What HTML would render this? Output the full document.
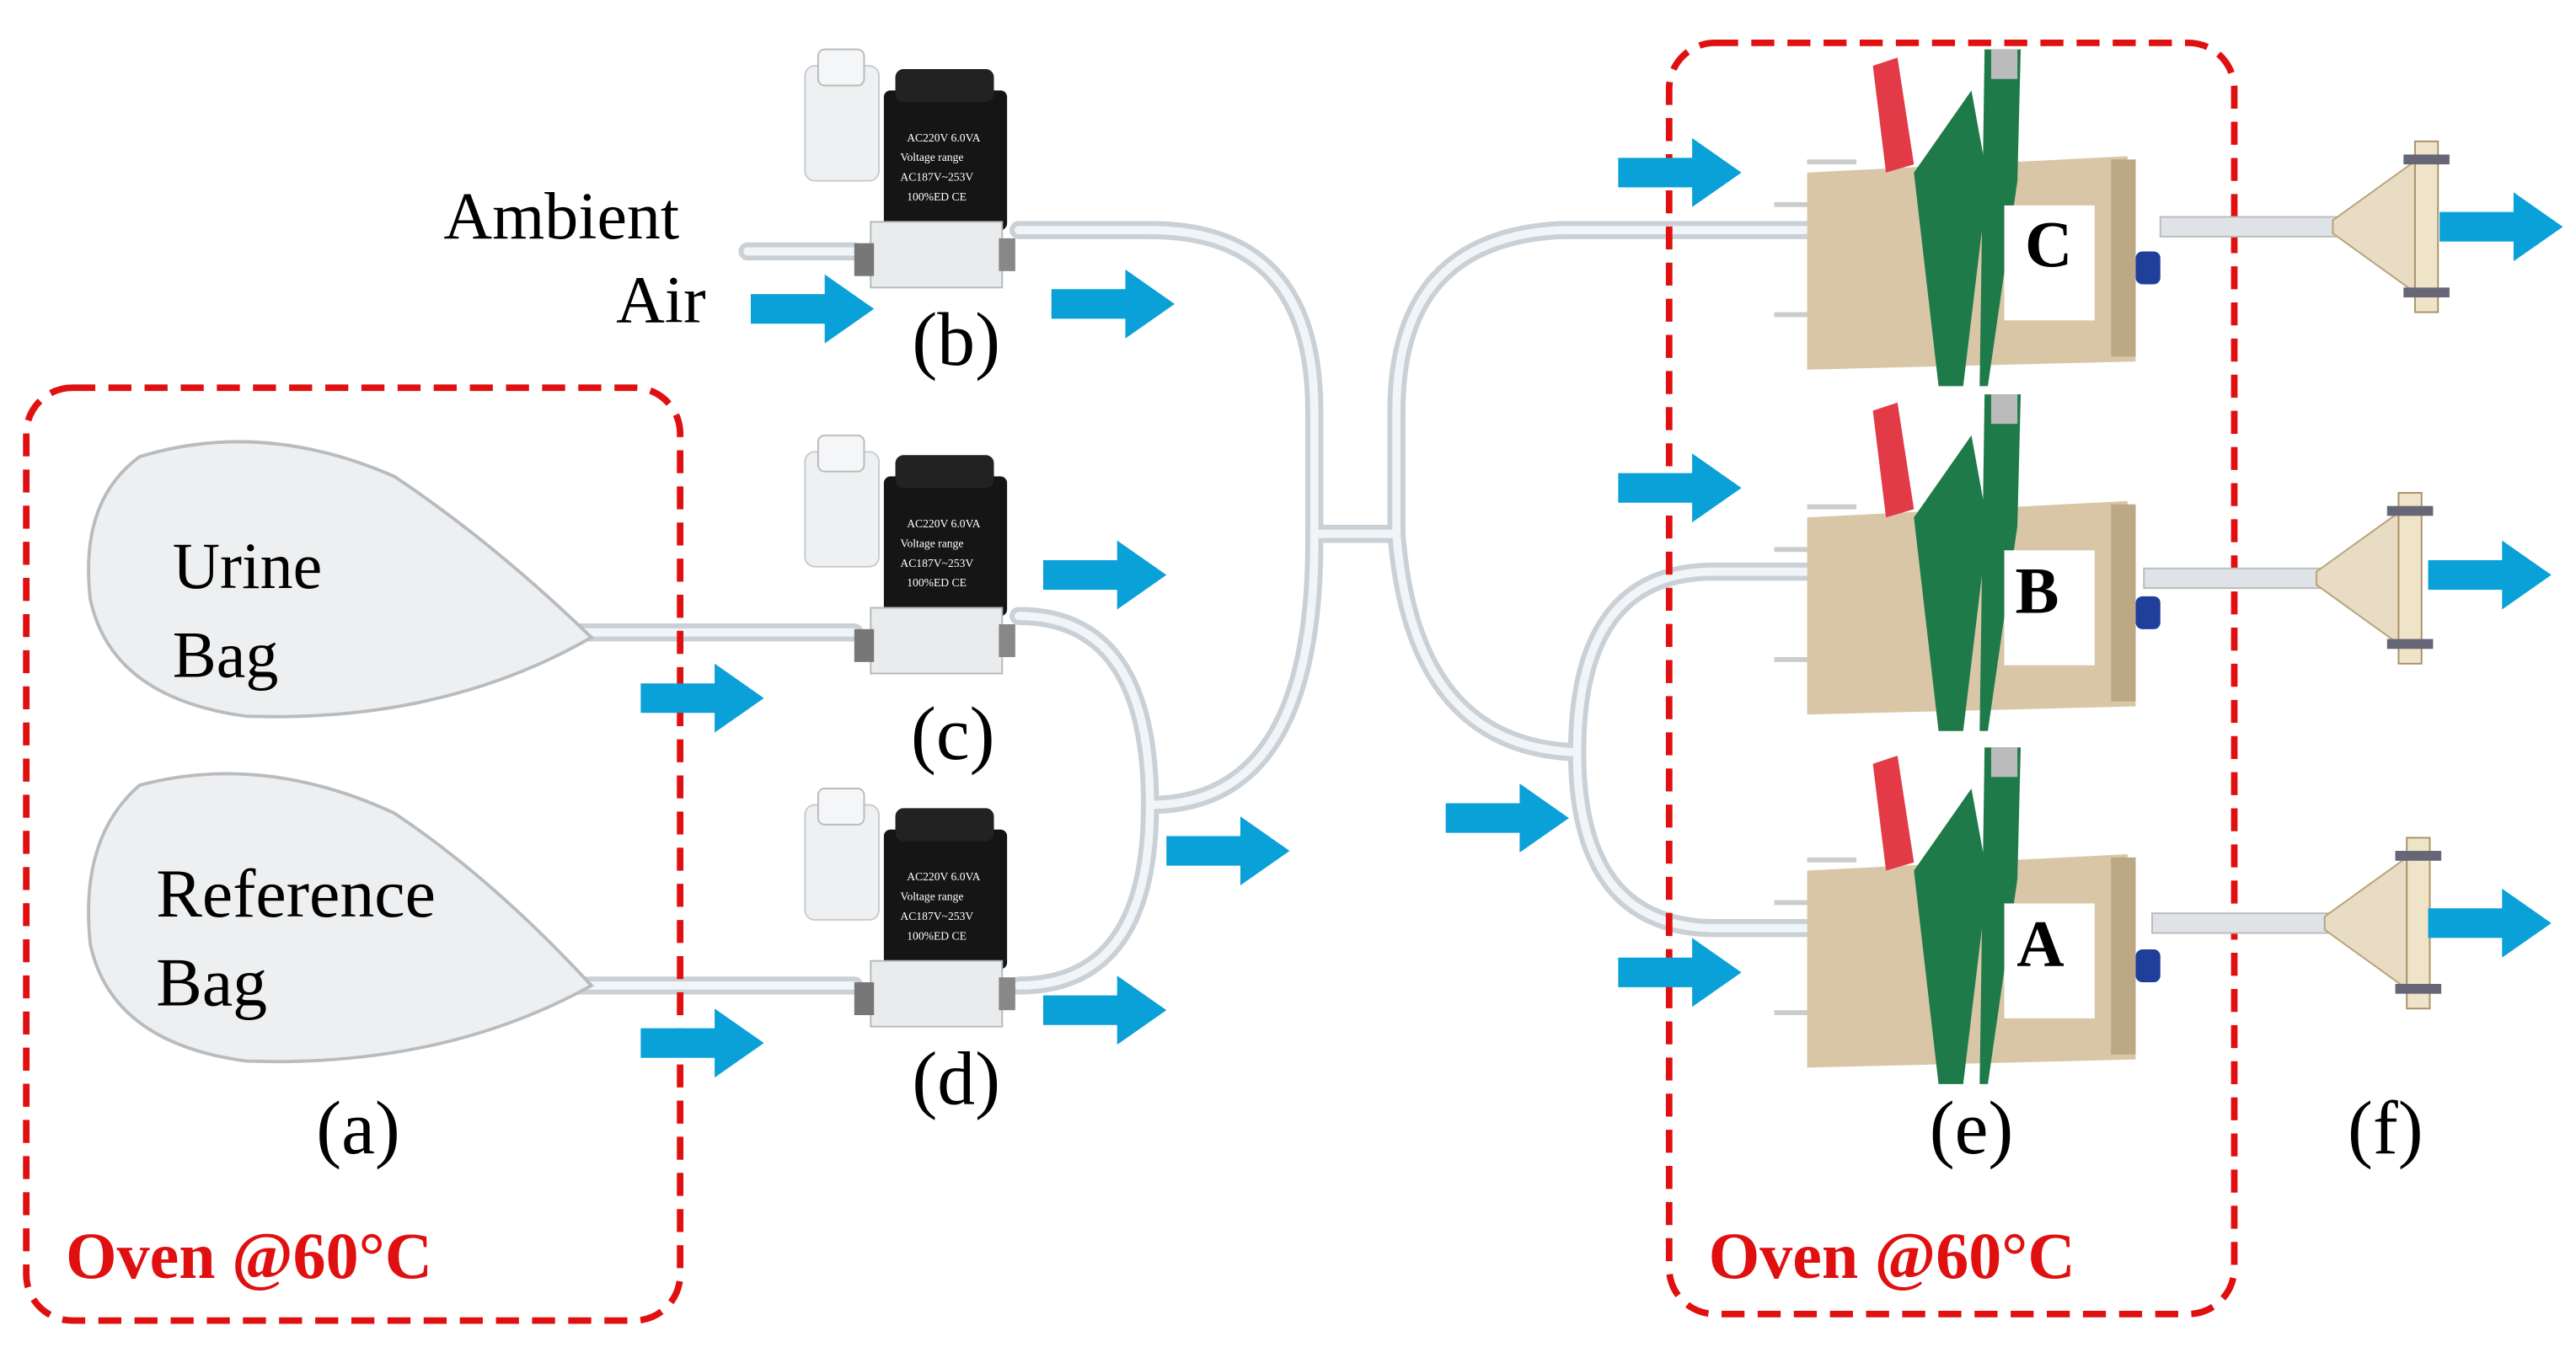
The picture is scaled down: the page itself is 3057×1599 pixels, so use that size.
<!DOCTYPE html>
<html><head><meta charset="utf-8"><style>
html,body{margin:0;padding:0;background:#fff;}
svg{display:block;}
text{font-family:"Liberation Serif",serif;}
</style></head><body>
<svg width="3057" height="1599" viewBox="0 0 1568 820" xmlns="http://www.w3.org/2000/svg">
<defs>
<g id="arrow"><polygon points="0,-9 45,-9 45,-21 75,0 45,21 45,9 0,9" fill="#0aa0d8"/></g>
<g id="valve">
  <rect x="0" y="10" width="45" height="70" rx="6" fill="#eef0f2" stroke="#c8ccd0"/>
  <rect x="8" y="0" width="28" height="22" rx="4" fill="#f4f6f7" stroke="#bbb"/>
  <rect x="48" y="25" width="75" height="85" rx="4" fill="#151515"/>
  <rect x="55" y="12" width="60" height="20" rx="5" fill="#222"/>
  <text x="62" y="56" font-size="7" fill="#fff" font-family="Liberation Sans,sans-serif">AC220V 6.0VA</text>
  <text x="58" y="68" font-size="7" fill="#fff" font-family="Liberation Sans,sans-serif">Voltage range</text>
  <text x="58" y="80" font-size="7" fill="#fff" font-family="Liberation Sans,sans-serif">AC187V~253V</text>
  <text x="62" y="92" font-size="7" fill="#fff" font-family="Liberation Sans,sans-serif">100%ED  CE</text>
  <rect x="40" y="105" width="80" height="40" fill="#e9ebed" stroke="#b5b9bd"/>
  <rect x="30" y="118" width="12" height="20" fill="#777"/>
  <rect x="118" y="115" width="10" height="20" fill="#888"/>
</g>
<g id="sensor">
  <rect x="0" y="12" width="30" height="3" fill="#ccc"/>
  <rect x="-20" y="38" width="22" height="3" fill="#ccc"/>
  <rect x="-20" y="105" width="22" height="3" fill="#ccc"/>
  <rect x="0" y="85" width="22" height="3" fill="#ccc"/>
  <polygon points="0,20 195,10 200,135 0,140" fill="#d9c6a6"/>
  <rect x="185" y="12" width="15" height="120" fill="#bda886"/>
  <polygon points="40,-45 55,-50 65,15 48,20" fill="#e33a48"/>
  <polygon points="65,20 100,-30 110,25 95,150 80,150" fill="#1f7a4a"/>
  <polygon points="108,-55 130,-55 128,25 110,150 105,150" fill="#1f7a4a"/>
  <rect x="112" y="-55" width="16" height="18" fill="#bbb"/>
  <rect x="120" y="40" width="55" height="70" fill="#fff"/>
  <rect x="200" y="68" width="15" height="20" rx="4" fill="#1f3f9a"/>
</g>
<g id="funnel">
  <rect x="0" y="-6" width="110" height="12" fill="#dfe3e7" stroke="#bbb"/>
  <polygon points="105,-4 155,-40 155,40 105,4" fill="#e8dcc4" stroke="#b8a27a"/>
  <rect x="155" y="-52" width="14" height="104" fill="#f0e4c8" stroke="#a8926a"/>
  <rect x="148" y="-44" width="28" height="6" fill="#667"/>
  <rect x="148" y="37" width="28" height="6" fill="#667"/>
</g>
</defs>

<g fill="none" stroke="#c9d0d6" stroke-width="11" stroke-linecap="round">
  <path d="M455,153 H520"/>
  <path d="M620,140 H700 Q800,140 800,250 V330"/>
  <path d="M800,325 H850"/>
  <path d="M850,325 V250 Q850,145 950,140 H1110"/>
  <path d="M850,325 Q860,455 960,458"/>
  <path d="M960,458 Q960,350 1040,348 H1100"/>
  <path d="M960,458 Q960,562 1040,565 H1100"/>
  <path d="M295,385 H520"/>
  <path d="M295,600 H520"/>
  <path d="M620,375 Q700,375 700,490"/>
  <path d="M620,600 Q700,600 700,490"/>
  <path d="M700,490 Q800,490 800,330"/>
</g>
<g fill="none" stroke="#f2f5f7" stroke-width="5" stroke-linecap="round">
  <path d="M455,153 H520"/>
  <path d="M620,140 H700 Q800,140 800,250 V330"/>
  <path d="M800,325 H850"/>
  <path d="M850,325 V250 Q850,145 950,140 H1110"/>
  <path d="M850,325 Q860,455 960,458"/>
  <path d="M960,458 Q960,350 1040,348 H1100"/>
  <path d="M960,458 Q960,562 1040,565 H1100"/>
  <path d="M295,385 H520"/>
  <path d="M295,600 H520"/>
  <path d="M620,375 Q700,375 700,490"/>
  <path d="M620,600 Q700,600 700,490"/>
  <path d="M700,490 Q800,490 800,330"/>
</g>

<rect x="16" y="236" width="398" height="568" rx="28" fill="none" stroke="#e01010" stroke-width="4" stroke-dasharray="14,8"/>
<rect x="1016" y="26" width="344" height="774" rx="28" fill="none" stroke="#e01010" stroke-width="4" stroke-dasharray="14,8"/>
<text x="40" y="778" font-size="40" font-weight="bold" fill="#e01010">Oven @60°C</text>
<text x="1040" y="778" font-size="40" font-weight="bold" fill="#e01010">Oven @60°C</text>

<path d="M360,388 Q300,330 240,290 Q160,255 85,278 Q48,305 55,365 Q68,425 150,436 Q270,440 360,388Z" fill="#eeeff0" stroke="#b9bcbf" stroke-width="2"/>
<path d="M360,600 Q300,535 240,495 Q160,458 85,478 Q48,510 55,575 Q68,635 150,646 Q270,650 360,600Z" fill="#eeeff0" stroke="#b9bcbf" stroke-width="2"/>
<text x="105" y="358" font-size="40">Urine</text>
<text x="105" y="412" font-size="40">Bag</text>
<text x="95" y="558" font-size="42">Reference</text>
<text x="95" y="612" font-size="42">Bag</text>

<use href="#valve" x="490" y="30"/>
<use href="#valve" x="490" y="265"/>
<use href="#valve" x="490" y="480"/>

<use href="#sensor" x="1100" y="85"/>
<use href="#sensor" x="1100" y="295"/>
<use href="#sensor" x="1100" y="510"/>
<text x="1247" y="162" font-size="40" font-weight="bold" text-anchor="middle">C</text>
<text x="1240" y="373" font-size="40" font-weight="bold" text-anchor="middle">B</text>
<text x="1242" y="588" font-size="40" font-weight="bold" text-anchor="middle">A</text>

<use href="#funnel" x="1315" y="138"/>
<use href="#funnel" x="1305" y="352"/>
<use href="#funnel" x="1310" y="562"/>

<use href="#arrow" x="457" y="188"/>
<use href="#arrow" x="640" y="185"/>
<use href="#arrow" x="390" y="425"/>
<use href="#arrow" x="635" y="350"/>
<use href="#arrow" x="710" y="518"/>
<use href="#arrow" x="390" y="635"/>
<use href="#arrow" x="635" y="615"/>
<use href="#arrow" x="985" y="105"/>
<use href="#arrow" x="985" y="297"/>
<use href="#arrow" x="880" y="498"/>
<use href="#arrow" x="985" y="592"/>
<use href="#arrow" x="1485" y="138"/>
<use href="#arrow" x="1478" y="350"/>
<use href="#arrow" x="1478" y="562"/>

<text x="270" y="145" font-size="41">Ambient</text>
<text x="375" y="196" font-size="41">Air</text>
<text x="218" y="702" font-size="46" text-anchor="middle">(a)</text>
<text x="582" y="222" font-size="46" text-anchor="middle">(b)</text>
<text x="580" y="462" font-size="46" text-anchor="middle">(c)</text>
<text x="582" y="672" font-size="46" text-anchor="middle">(d)</text>
<text x="1200" y="702" font-size="46" text-anchor="middle">(e)</text>
<text x="1452" y="702" font-size="46" text-anchor="middle">(f)</text>
</svg>
</body></html>
